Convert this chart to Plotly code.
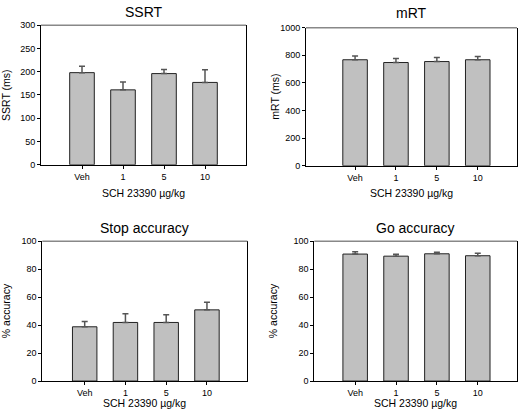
import plotly.graph_objects as go

categories = ["Veh", "1", "5", "10"]

ssrt_mean = [198, 161, 196, 177]
ssrt_sem = [14, 17, 9, 27]

mrt_mean = [768, 748, 755, 768]
mrt_sem = [28, 30, 30, 24]

stop_mean = [38.8, 41.9, 41.9, 50.9]
stop_sem = [3.7, 6.2, 5.5, 5.4]

go_mean = [90.8, 89.3, 91.0, 89.6]
go_sem = [1.6, 1.3, 1.1, 1.8]

titles = ["SSRT", "mRT", "Stop accuracy", "Go accuracy"]
ytitles = ["SSRT (ms)", "mRT (ms)", "% accuracy", "% accuracy"]
xtitle = "SCH 23390 \u00b5g/kg"

W, H = 519, 417
# panel boxes in pixels: (x0, x1, ytop, ybottom)
boxes = [(41, 246, 20.7, 163.7), (306, 517, 23.3, 164.7),
         (42.3, 247.3, 242, 385.3), (314.3, 517, 242, 385.3)]
title_y = [7.5, 8.5, 228, 228]
xtitle_y = [193, 193, 408, 408]
ytitle_x = [6, 275, 6, 273]
yranges = [[0, 300], [0, 1000], [0, 100], [0, 100]]
ydticks = [50, 200, 20, 20]
xranges = [[-1.0, 4.0], [-1.2, 3.96], [-1.04, 3.99], [-1.0, 3.96]]
means = [ssrt_mean, mrt_mean, stop_mean, go_mean]
sems = [ssrt_sem, mrt_sem, stop_sem, go_sem]

FONT = "Liberation Sans, Arial, sans-serif"
fig = go.Figure()
layout = dict(width=W, height=H, margin=dict(l=0, r=0, t=0, b=0),
              paper_bgcolor="white", plot_bgcolor="white", showlegend=False,
              font=dict(family=FONT, color="black", size=9))
annotations = []
shapes = []
for i in range(4):
    x0, x1, yt, yb = boxes[i]
    sfx = "" if i == 0 else str(i + 1)
    xa = "x" + sfx
    ya = "y" + sfx
    fig.add_trace(go.Bar(
        x=list(range(4)), y=means[i], xaxis=xa, yaxis=ya, width=0.6,
        marker=dict(color="#c0c0c0", line=dict(color="#222222", width=1)),
        error_y=dict(type="data", symmetric=False, array=sems[i],
                     arrayminus=[0] * 4, color="#555555", thickness=1.5, width=3),
        hoverinfo="skip",
    ))
    layout["xaxis" + sfx] = dict(
        domain=[x0 / W, x1 / W], anchor=ya, range=xranges[i],
        tickmode="array", tickvals=list(range(4)), ticktext=categories,
        showline=True, linecolor="black", linewidth=1, mirror=False,
        ticks="outside", ticklen=3, tickcolor="black", showgrid=False,
        zeroline=False, fixedrange=True, tickfont=dict(size=9))
    layout["yaxis" + sfx] = dict(
        domain=[1 - yb / H, 1 - yt / H], anchor=xa, range=yranges[i],
        dtick=ydticks[i], showline=True, linecolor="black", linewidth=1,
        mirror=True, ticks="outside", ticklen=3, tickcolor="black",
        showgrid=False, zeroline=False, fixedrange=True, tickfont=dict(size=9))
    shapes.append(dict(type="line", xref=xa + " domain", yref=ya + " domain",
                       x0=0, x1=1, y0=1, y1=1,
                       line=dict(color="#888888", width=1.5)))
    cx = (x0 + x1) / 2
    annotations.append(dict(text=titles[i], x=cx / W, y=1 - title_y[i] / H,
                            xref="paper", yref="paper", showarrow=False,
                            xanchor="center", yanchor="middle",
                            font=dict(size=14, family=FONT)))
    annotations.append(dict(text=xtitle, x=cx / W, y=1 - xtitle_y[i] / H,
                            xref="paper", yref="paper", showarrow=False,
                            xanchor="center", yanchor="middle",
                            font=dict(size=10.5, family=FONT)))
    annotations.append(dict(text=ytitles[i], x=ytitle_x[i] / W,
                            y=1 - ((yt + yb) / 2) / H,
                            xref="paper", yref="paper", showarrow=False,
                            textangle=-90, xanchor="center", yanchor="middle",
                            font=dict(size=10.5, family=FONT)))
layout["annotations"] = annotations
layout["shapes"] = shapes
fig.update_layout(**layout)
fig.write_html("out.html", config={"displayModeBar": False, "staticPlot": True},
               post_script="document.body.style.margin='0';document.body.style.padding='0';")
